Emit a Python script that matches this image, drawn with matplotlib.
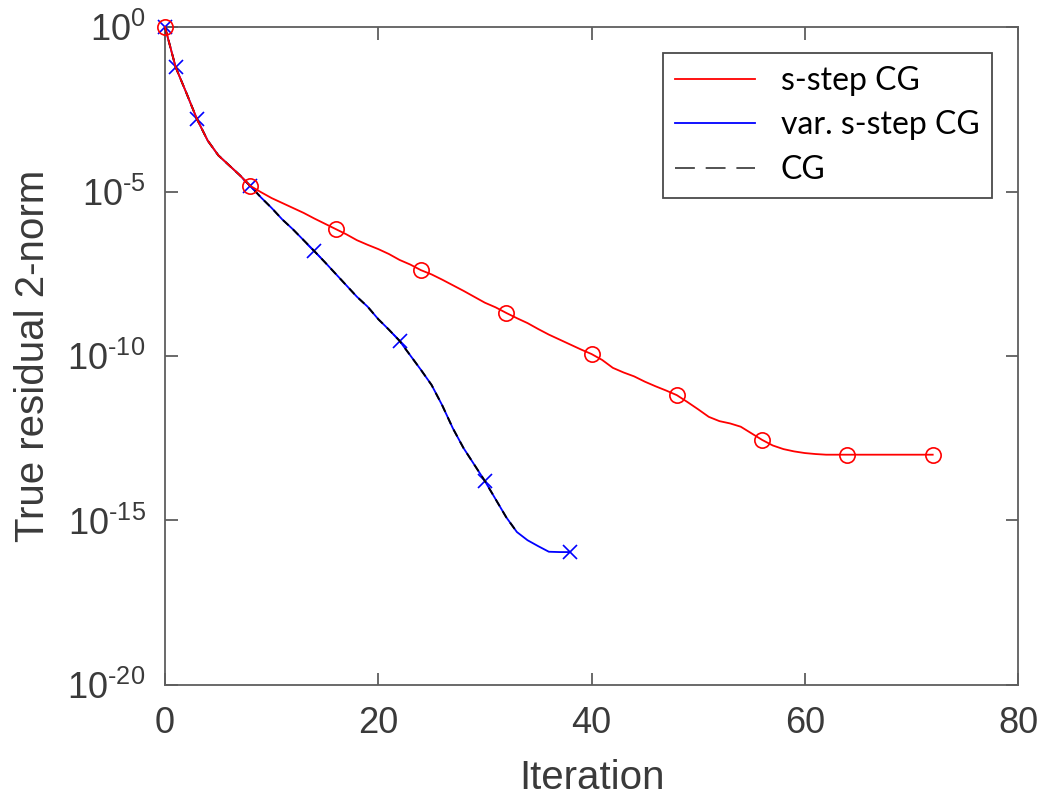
import matplotlib
matplotlib.use("Agg")
import matplotlib.pyplot as plt
import matplotlib.lines as mlines
import numpy as np
from matplotlib.ticker import FixedLocator, FuncFormatter, NullLocator

plt.rcParams['mathtext.fontset'] = 'custom'
plt.rcParams['mathtext.rm'] = 'Liberation Sans'
plt.rcParams['mathtext.default'] = 'regular'
plt.rcParams['font.family'] = ['Liberation Sans', 'DejaVu Sans']

# log10 of residual norms, per iteration
cg_log = [0.0, -1.22, -2.0, -2.8, -3.45, -3.9, -4.2, -4.5, -4.83, -5.18,
          -5.5, -5.85, -6.15, -6.48, -6.81, -7.15, -7.5, -7.85, -8.2, -8.5,
          -8.88, -9.2, -9.54, -9.98, -10.42, -10.88, -11.5, -12.2, -12.8, -13.3,
          -13.8, -14.35, -14.9, -15.35]
var_log = cg_log + [-15.6, -15.78, -15.95, -15.96, -15.96]
sstep_log = [0.0, -1.22, -2.0, -2.8, -3.45, -3.9, -4.2, -4.5, -4.83,
             -5.02, -5.2, -5.35, -5.5, -5.65, -5.82, -5.98, -6.14,
             -6.3, -6.48, -6.62, -6.75, -6.9, -7.08, -7.22, -7.39,
             -7.52, -7.68, -7.85, -8.02, -8.2, -8.38, -8.52, -8.69,
             -8.85, -9.0, -9.18, -9.35, -9.5, -9.65, -9.8, -9.94,
             -10.12, -10.36, -10.5, -10.62, -10.78, -10.92, -11.05, -11.19,
             -11.4, -11.62, -11.85, -11.98, -12.05, -12.15, -12.35, -12.55,
             -12.72, -12.83, -12.9, -12.95, -12.98, -13.0, -13.0, -13.0,
             -13.0, -13.0, -13.0, -13.0, -13.0, -13.0, -13.0, -13.0]
sstep_markers = [0, 8, 16, 24, 32, 40, 48, 56, 64, 72]
var_markers = [0, 1, 3, 8, 14, 22, 30, 38]

x_ticks = [0, 20, 40, 60, 80]
y_ticks = [1e-20, 1e-15, 1e-10, 1e-5, 1e0]
legend_labels = ['s-step CG', 'var. s-step CG', 'CG']

fig = plt.figure(figsize=(10.39, 7.99), dpi=100)
ax = fig.add_axes([0.1588, 0.1427, 0.8210, 0.8235])

it_s = np.arange(len(sstep_log))
it_v = np.arange(len(var_log))
it_c = np.arange(len(cg_log))

ax.plot(it_v, 10.0 ** np.array(var_log), color='#0000ff', lw=1.3,
        marker='x', ms=10, mew=1.2, markevery=var_markers, zorder=3, clip_on=False)
ax.plot(it_c, 10.0 ** np.array(cg_log), color='black', lw=1.4, ls=(0, (4, 3)),
        zorder=4, clip_on=False)
ax.plot(it_s, 10.0 ** np.array(sstep_log), color='#ff0000', lw=1.3,
        marker='o', ms=11, mfc='none', mew=1.2, markevery=sstep_markers,
        zorder=5, clip_on=False)

ax.set_yscale('log')
ax.set_xlim(0, 80)
ax.set_ylim(1e-20, 1e0)
ax.xaxis.set_major_locator(FixedLocator(x_ticks))
ax.yaxis.set_major_locator(FixedLocator(y_ticks))
ax.yaxis.set_minor_locator(NullLocator())


def yfmt(v, p):
    e = int(round(np.log10(v)))
    if e < 0:
        return r'$10^{\text{-}%d}$' % (-e)
    return r'$10^{%d}$' % e


ax.yaxis.set_major_formatter(FuncFormatter(yfmt))

spine_col = '#5e5e5e'
for s in ax.spines.values():
    s.set_color(spine_col)
    s.set_linewidth(1.3)
ax.tick_params(which='both', direction='in', top=True, right=True, length=9,
               width=1.3, color=spine_col, labelsize=26, labelcolor='#3a3a3a')
ax.tick_params(axis='x', pad=15)
ax.tick_params(axis='y', pad=14)

ax.set_xlabel('Iteration', fontsize=29, color='#3a3a3a', labelpad=13)
ax.set_ylabel('True residual 2-norm', fontsize=29, color='#3a3a3a', labelpad=11)

handles = [mlines.Line2D([], [], color='#ff0000', lw=1.3),
           mlines.Line2D([], [], color='#0000ff', lw=1.3),
           mlines.Line2D([], [], color='#444444', lw=1.3, ls=(0, (11, 6)))]
leg = ax.legend(handles, legend_labels, loc='upper right',
                bbox_to_anchor=(0.97, 0.96), frameon=True, fancybox=False,
                prop={'family': 'Lato', 'size': 23}, handlelength=2.5,
                handletextpad=0.8, labelspacing=0.45, borderpad=0.4,
                borderaxespad=0)
leg.get_frame().set_edgecolor('#4a4a4a')
leg.get_frame().set_linewidth(1.3)
leg.get_frame().set_alpha(1)

fig.savefig('out.png', dpi=100)
